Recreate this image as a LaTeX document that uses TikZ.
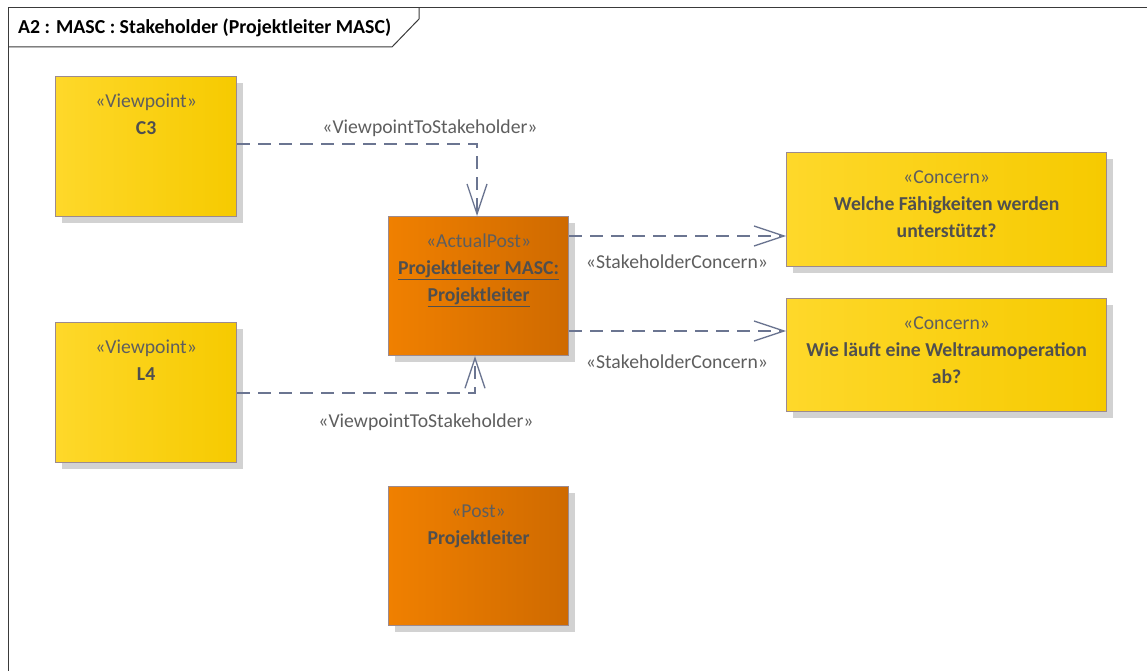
\documentclass[tikz,border=0pt]{standalone}
\usepackage{fontspec}
\setmainfont{Carlito}
\usetikzlibrary{arrows.meta,shadings}
\definecolor{ylL}{HTML}{FED82A}
\definecolor{ylR}{HTML}{F6CA00}
\definecolor{orL}{HTML}{F08000}
\definecolor{orR}{HTML}{CF6A00}
\definecolor{bord}{HTML}{9C8A8E}
\definecolor{shad}{HTML}{D2D2D2}
\definecolor{conn}{HTML}{6B7591}
\definecolor{txtg}{HTML}{5E5E5E}
\definecolor{txtd}{HTML}{4F4F4F}
\definecolor{frame}{HTML}{3A3A3A}
\tikzset{
  x=1pt,y=-1pt,
  box/.style={draw=bord, line width=1.2pt, inner sep=0pt, anchor=north west,
    preaction={fill=shad, transform canvas={shift={(6pt,-6pt)}}}},
  ybox/.style={box, left color=ylL, right color=ylR},
  obox/.style={box, left color=orL, right color=orR},
  btxt/.style={anchor=north, align=center, font=\fontsize{19.7}{27}\selectfont, text=txtg, inner sep=0pt},
  dep/.style={draw=conn, line width=1.3pt, dash pattern=on 13pt off 8pt,
    -{Straight Barb[length=30pt,width=20pt,line width=1.3pt]}},
  clab/.style={font=\fontsize{19.7}{22}\selectfont, text=txtg, inner sep=0pt},
}
\newcommand{\nm}[1]{{\bfseries\color{txtd}#1}}
\newcommand{\unm}[1]{{\bfseries\color{txtd}\underline{#1}}}
\newcommand{\fs}{\rule{0pt}{15pt}}
\begin{document}
\begin{tikzpicture}
\useasboundingbox (0,0) rectangle (1147,671);
% frame
\draw[frame, line width=1pt] (8,671) -- (8,8) -- (1147,8);
\draw[frame, line width=1pt] (8,47) -- (392,47) -- (419,19) -- (419,8);
\node[anchor=west, inner sep=0pt, font=\fontsize{19.8}{24}\selectfont\bfseries] (title) at (18,28) {A2 : MASC : Stakeholder (Projektleiter MASC)};
% boxes
\node[ybox, minimum width=181pt, minimum height=140pt] (c3) at (55,76) {};
\node[ybox, minimum width=181pt, minimum height=140pt] (l4) at (55,322) {};
\node[obox, minimum width=180pt, minimum height=139pt] (ap) at (388,216) {};
\node[obox, minimum width=180pt, minimum height=139pt] (post) at (388,486) {};
\node[ybox, minimum width=320pt, minimum height=114pt] (cn1) at (786,152) {};
\node[ybox, minimum width=320pt, minimum height=113pt] (cn2) at (786,298) {};
% texts
\node[btxt] (c3t) at ([yshift=-16.5pt]c3.north) {\fs«Viewpoint»\\\nm{C3}};
\node[btxt] (l4t) at ([yshift=-16.5pt]l4.north) {\fs«Viewpoint»\\\nm{L4}};
\node[btxt] (apt) at ([yshift=-16.5pt]ap.north) {\fs«ActualPost»\\\unm{Projektleiter MASC:}\\\unm{Projektleiter}};
\node[btxt] (postt) at ([yshift=-16.5pt]post.north) {\fs«Post»\\\nm{Projektleiter}};
\node[btxt] (cn1t) at ([yshift=-16.5pt]cn1.north) {\fs«Concern»\\\nm{Welche Fähigkeiten werden}\\\nm{unterstützt?}};
\node[btxt] (cn2t) at ([yshift=-16.5pt]cn2.north) {\fs«Concern»\\\nm{Wie läuft eine Weltraumoperation}\\\nm{ab?}};
% connectors
\coordinate (k1) at (477,144);
\coordinate (k2) at (475,393);
\draw[dep] (c3.east |- k1) -- (k1) -- (k1 |- ap.north);
\draw[dep] (l4.east |- k2) -- (k2) -- (k2 |- ap.south);
\draw[dep] (ap.east |- 0,236) -- (cn1.west |- 0,236);
\draw[dep] (ap.east |- 0,331) -- (cn2.west |- 0,331);
% labels
\node[clab] (lab1) at (430,128) {«ViewpointToStakeholder»};
\node[clab] (lab2) at (426,422) {«ViewpointToStakeholder»};
\node[clab] (lab3) at (677,262) {«StakeholderConcern»};
\node[clab] (lab4) at (677,362) {«StakeholderConcern»};
\end{tikzpicture}
\end{document}
